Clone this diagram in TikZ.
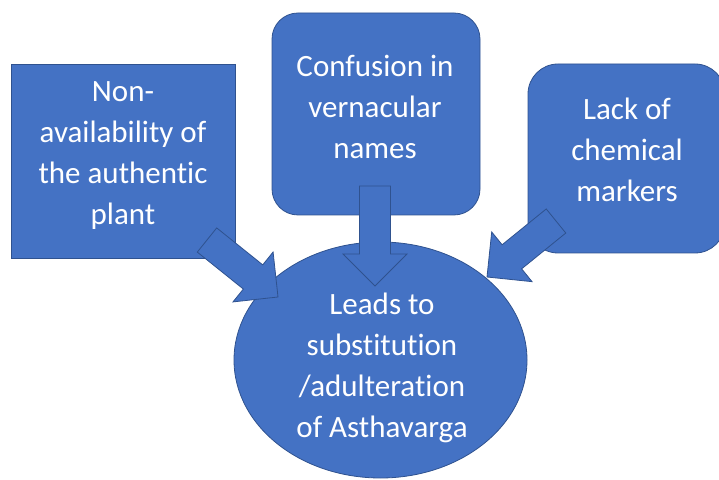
\documentclass[tikz,border=0pt]{standalone}
\usepackage{fontspec}
\setmainfont[Ligatures=NoCommon]{Carlito}
\usetikzlibrary{calc,positioning,shapes.geometric}
\definecolor{boxblue}{HTML}{4472C4}
\definecolor{edgeblue}{HTML}{2F528F}
\tikzset{shapebox/.style={draw=edgeblue, fill=boxblue, line width=0.8pt, inner sep=0}}
\tikzset{txt/.style={text=white, align=center, inner sep=0, font=\fontsize{31}{41}\selectfont}}
\tikzset{blockarr/.style={draw=edgeblue, fill=boxblue, line width=0.8pt, line join=miter}}
\newcommand\blockarrow[2]{
		\path[blockarr] let \p1=($(#2)-(#1)$), \n1={atan2(\y1,\x1)}, \n2={veclen(\x1,\y1)-32} in
			($(#1)+(\n1+90:15.5)$) -- ++(\n1:\n2) -- ++(\n1+90:16.5) -- (#2)
			-- ($(#1)+(\n1:\n2)+(\n1-90:32)$) -- ++(\n1+90:16.5) -- ($(#1)+(\n1-90:15.5)$) -- cycle;
	}

\begin{document}
\begin{tikzpicture}[x=1pt, y=1pt]
	\useasboundingbox (0,0) rectangle (719,479);
	\node[shapebox, minimum width=224, minimum height=194] (plant) at (123,318) {};
	\node[shapebox, rounded corners=26, minimum width=208, minimum height=202] (names) at (376,365) {};
	\node[shapebox, rounded corners=30, minimum width=197, minimum height=189] (markers) at (626.5,320.5) {};
	\node[shapebox, ellipse, minimum width=293, minimum height=236] (result) at (380.5,119) {};

	\node[txt] (plant-txt) at (123,323) {Non-\\availability of\\the authentic\\plant};
	\node[txt] (names-txt) at (375,372) {Confusion in\\vernacular\\names};
	\node[txt] (markers-txt) at (627,329) {Lack of\\chemical\\markers};
	\node[txt] (result-txt) at (382,111) {Leads to\\substitution\\/adulteration\\of Asthavarga};

	% block arrows into the ellipse
	\coordinate (plant-tail) at (207,239);
	\coordinate (plant-tip) at (278,182);
	\coordinate (names-tail) at (375,293);
	\coordinate (names-tip) at (375,193);
	\coordinate (markers-tail) at (556,258);
	\coordinate (markers-tip) at (487,202);
	\blockarrow{plant-tail}{plant-tip}
	\blockarrow{names-tail}{names-tip}
	\blockarrow{markers-tail}{markers-tip}
\end{tikzpicture}
\end{document}
